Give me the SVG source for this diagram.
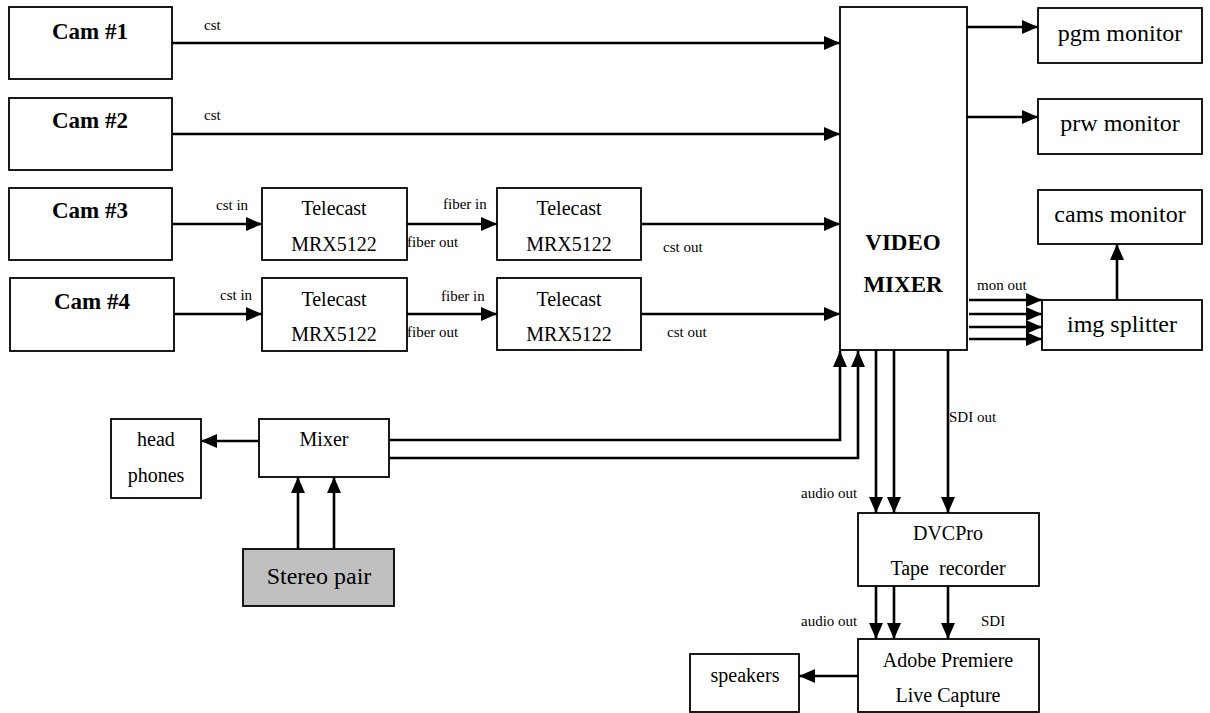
<svg xmlns="http://www.w3.org/2000/svg" width="1210" height="713" viewBox="0 0 1210 713" font-family="'Liberation Serif', 'DejaVu Serif', serif">
<style>
text{font-family:'Liberation Serif','DejaVu Serif',serif;fill:#000}
.box{fill:#fff;stroke:#000;stroke-width:1.8}
.gray{fill:#c0c0c0;stroke:#000;stroke-width:1.8}
.b{font-weight:bold;font-size:23px;text-anchor:middle}
.m{font-size:24px;text-anchor:middle}
.n{font-size:20px;text-anchor:middle}
.s{font-size:15px}
.c line,.c polyline{stroke:#000;stroke-width:2.6;fill:none;marker-end:url(#ah)}
</style>
<defs>
<marker id="ah" markerUnits="userSpaceOnUse" markerWidth="16" markerHeight="14" refX="16" refY="7" orient="auto">
<path d="M0,0 L16,7 L0,14 z" fill="#000"/>
</marker>
</defs>
<rect width="1210" height="713" fill="#fff"/>

<g id="cam1"><rect class="box" x="9" y="7" width="163" height="72"/><text class="b" x="90" y="39">Cam #1</text></g>
<g id="cam2"><rect class="box" x="9" y="98" width="163" height="72"/><text class="b" x="90" y="128">Cam #2</text></g>
<g id="cam3"><rect class="box" x="9" y="188" width="163" height="72"/><text class="b" x="90" y="218">Cam #3</text></g>
<g id="cam4"><rect class="box" x="10" y="278" width="164" height="73"/><text class="b" x="92" y="309">Cam #4</text></g>

<g id="tc3a"><rect class="box" x="262" y="188" width="145" height="72"/><text class="n" x="334" y="215">Telecast</text><text class="n" x="334" y="251">MRX5122</text></g>
<g id="tc4a"><rect class="box" x="262" y="278" width="145" height="73"/><text class="n" x="334" y="306">Telecast</text><text class="n" x="334" y="341">MRX5122</text></g>
<g id="tc3b"><rect class="box" x="497" y="188" width="144" height="72"/><text class="n" x="569" y="215">Telecast</text><text class="n" x="569" y="251">MRX5122</text></g>
<g id="tc4b"><rect class="box" x="497" y="278" width="144" height="72"/><text class="n" x="569" y="306">Telecast</text><text class="n" x="569" y="341">MRX5122</text></g>

<g id="videomixer"><rect class="box" x="840" y="7" width="127" height="343"/><text class="b" x="903" y="250">VIDEO</text><text class="b" x="903" y="292">MIXER</text></g>

<g id="pgm"><rect class="box" x="1038" y="8" width="164" height="55"/><text class="m" x="1120" y="41">pgm monitor</text></g>
<g id="prw"><rect class="box" x="1038" y="99" width="164" height="55"/><text class="m" x="1120" y="131">prw monitor</text></g>
<g id="cams"><rect class="box" x="1038" y="190" width="164" height="54"/><text class="m" x="1120" y="222">cams monitor</text></g>
<g id="splitter"><rect class="box" x="1042" y="300" width="160" height="50"/><text class="m" x="1122" y="332">img splitter</text></g>

<g id="headphones"><rect class="box" x="111" y="419" width="90" height="79"/><text class="n" x="156" y="446">head</text><text class="n" x="156" y="482">phones</text></g>
<g id="mixer"><rect class="box" x="259" y="419" width="130" height="58"/><text class="n" x="324" y="446">Mixer</text></g>
<g id="stereo"><rect class="gray" x="243" y="549" width="151" height="57"/><text class="m" x="319" y="584">Stereo pair</text></g>

<g id="dvcpro"><rect class="box" x="858" y="513" width="181" height="73"/><text class="n" x="948" y="540">DVCPro</text><text class="n" x="948" y="575" xml:space="preserve">Tape  recorder</text></g>
<g id="adobe"><rect class="box" x="858" y="639" width="181" height="73"/><text class="n" x="948" y="667">Adobe Premiere</text><text class="n" x="948" y="702">Live Capture</text></g>
<g id="speakers"><rect class="box" x="690" y="654" width="109" height="58"/><text class="n" x="745" y="682">speakers</text></g>

<g id="connectors" class="c">
<line x1="172" y1="43" x2="840" y2="43"/>
<line x1="172" y1="134" x2="840" y2="134"/>
<line x1="172" y1="224" x2="262" y2="224"/>
<line x1="174" y1="314" x2="262" y2="314"/>
<line x1="407" y1="224" x2="497" y2="224"/>
<line x1="407" y1="314" x2="497" y2="314"/>
<line x1="641" y1="224" x2="840" y2="224"/>
<line x1="641" y1="314" x2="840" y2="314"/>
<line x1="967" y1="27" x2="1038" y2="27"/>
<line x1="967" y1="117" x2="1038" y2="117"/>
<line x1="969" y1="300" x2="1042" y2="300"/>
<line x1="969" y1="314" x2="1042" y2="314"/>
<line x1="969" y1="327" x2="1042" y2="327"/>
<line x1="969" y1="339" x2="1042" y2="339"/>
<line x1="1117" y1="300" x2="1117" y2="244"/>
<line x1="259" y1="441" x2="201" y2="441"/>
<polyline points="389,440 840,440 840,351"/>
<polyline points="389,458 858,458 858,351"/>
<line x1="298" y1="549" x2="298" y2="477"/>
<line x1="334" y1="549" x2="334" y2="477"/>
<line x1="876" y1="350" x2="876" y2="513"/>
<line x1="894" y1="350" x2="894" y2="513"/>
<line x1="948" y1="350" x2="948" y2="513"/>
<line x1="876" y1="586" x2="876" y2="639"/>
<line x1="894" y1="586" x2="894" y2="639"/>
<line x1="948" y1="586" x2="948" y2="639"/>
<line x1="858" y1="676" x2="799" y2="676"/>
</g>

<g id="labels">
<text class="s" x="204" y="30">cst</text>
<text class="s" x="204" y="120">cst</text>
<text class="s" x="216" y="210">cst in</text>
<text class="s" x="220" y="300">cst in</text>
<text class="s" x="443" y="209">fiber in</text>
<text class="s" x="407" y="247">fiber out</text>
<text class="s" x="441" y="301">fiber in</text>
<text class="s" x="407" y="337">fiber out</text>
<text class="s" x="663" y="252">cst out</text>
<text class="s" x="667" y="337">cst out</text>
<text class="s" x="977" y="290">mon out</text>
<text class="s" x="949" y="422">SDI out</text>
<text class="s" x="801" y="498">audio out</text>
<text class="s" x="801" y="626">audio out</text>
<text class="s" x="981" y="626">SDI</text>
</g>
</svg>
